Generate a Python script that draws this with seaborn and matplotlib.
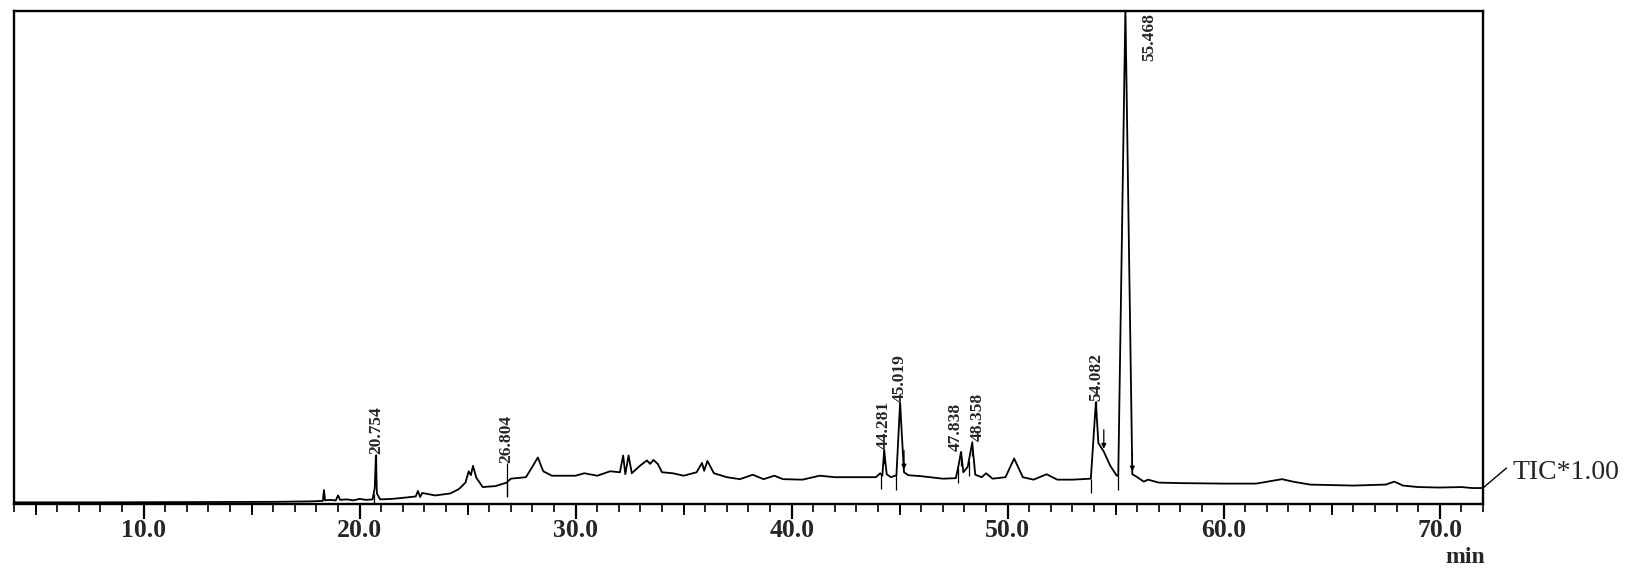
import numpy as np
import pandas as pd
import seaborn as sns
from matplotlib import pyplot as plt
from matplotlib.ticker import MultipleLocator, FormatStrFormatter

# TIC trace (min, % of full scale)
rt_min = [4.0, 8.0, 12.0, 16.0, 17.8, 18.3, 18.35, 18.4, 18.6, 18.9, 19.0, 19.1, 19.4, 19.7,
          20.0, 20.3, 20.6, 20.7, 20.754, 20.8, 20.95, 21.5, 22.2, 22.6, 22.7, 22.8, 22.9,
          23.5, 24.2, 24.6, 24.9, 25.05, 25.15, 25.25, 25.4, 25.7, 26.3, 26.804, 27.0, 27.7,
          28.05, 28.25, 28.5, 28.9, 30.0, 30.4, 31.0, 31.6, 32.05, 32.2, 32.3, 32.45, 32.6,
          33.0, 33.3, 33.45, 33.6, 33.8, 34.0, 34.5, 35.0, 35.6, 35.85, 35.95, 36.1, 36.4,
          37.0, 37.6, 38.2, 38.7, 39.2, 39.6, 40.5, 41.3, 42.0, 43.0, 43.9, 44.1, 44.2,
          44.281, 44.4, 44.6, 44.85, 45.019, 45.2, 45.4, 46.0, 47.0, 47.6, 47.75, 47.838,
          47.95, 48.15, 48.358, 48.5, 48.8, 49.0, 49.3, 49.9, 50.3, 50.7, 51.2, 51.8, 52.3,
          53.0, 53.85, 54.082, 54.2, 54.45, 54.75, 55.05, 55.12, 55.45, 55.77, 56.0, 56.3,
          56.5, 57.0, 58.0, 60.0, 61.5, 62.3, 62.7, 63.2, 64.0, 66.0, 67.5, 67.9, 68.3,
          69.0, 70.0, 71.0, 71.5, 72.0]
intensity = [0.3, 0.3, 0.35, 0.4, 0.5, 0.6, 2.8, 0.7, 0.8, 0.7, 1.7, 0.8, 0.9, 0.7,
             1.0, 0.8, 0.9, 3.2, 9.8, 2.1, 0.9, 1.0, 1.3, 1.5, 2.6, 1.4, 2.2,
             1.7, 2.1, 3.0, 4.3, 6.6, 5.8, 7.7, 5.3, 3.4, 3.6, 4.3, 5.1, 5.4,
             7.9, 9.4, 6.6, 5.7, 5.7, 6.2, 5.7, 6.6, 6.4, 9.8, 6.0, 9.8, 6.2,
             7.8, 8.8, 8.1, 8.9, 8.1, 6.4, 6.2, 5.7, 6.4, 8.3, 6.7, 8.7, 6.2,
             5.4, 5.0, 5.9, 5.0, 5.7, 5.0, 4.9, 5.7, 5.4, 5.4, 5.4, 6.2, 5.7,
             10.9, 6.0, 5.4, 5.8, 20.4, 6.4, 5.8, 5.6, 5.1, 5.2, 8.3, 10.5,
             6.4, 7.5, 12.4, 5.9, 5.4, 6.2, 5.1, 5.4, 9.2, 5.4, 4.9, 6.0, 4.9,
             4.9, 5.1, 20.6, 12.3, 10.6, 7.7, 5.7, 5.8, 100.5, 6.0, 5.4, 4.5,
             4.9, 4.3, 4.2, 4.1, 4.1, 4.7, 5.0, 4.5, 3.9, 3.7, 3.9, 4.5, 3.7,
             3.4, 3.3, 3.4, 3.2, 3.2]

peak_rt = [20.754, 26.804, 44.281, 45.019, 47.838, 48.358, 54.082, 55.468]
peak_labels = ["20.754", "26.804", "44.281", "45.019", "47.838", "48.358", "54.082", "55.468"]
start_marks = [20.65, 26.804, 44.15, 44.85, 47.7, 48.2, 53.85, 55.12]
end_marks = [45.2, 54.45, 55.77]

trace = pd.DataFrame({"Minute": rt_min, "Intensity": intensity})

sns.set_theme(style="white")
plt.rcParams['font.family'] = ['Liberation Serif', 'DejaVu Serif']

fig, ax = plt.subplots(figsize=(16.26, 5.68), dpi=100)
fig.subplots_adjust(left=0.0086, right=0.912, bottom=0.113, top=0.981)

sns.lineplot(x="Minute", y="Intensity", data=trace, estimator=None, sort=False,
             color="black", linewidth=1.3, ax=ax)

ax.set_xlim(4, 72)
ax.set_ylim(0, 100)
ax.set_xlabel("")
ax.set_ylabel("")
ax.set_yticks([])
for s in ax.spines.values():
    s.set_color("black")
    s.set_linewidth(1.7)

ax.xaxis.set_major_locator(MultipleLocator(10))
ax.xaxis.set_minor_locator(MultipleLocator(1))
ax.xaxis.set_major_formatter(FormatStrFormatter('%.1f'))
ax.tick_params(axis='x', which='major', bottom=True, direction='out', length=11, width=1.6,
               pad=0, labelsize=18.5, color='black')
ax.tick_params(axis='x', which='minor', bottom=True, direction='out', length=6, width=1.2,
               color='black')
plt.setp(ax.get_xticklabels(), fontweight='bold')

# medium ticks every 5 min
sec = ax.secondary_xaxis('bottom')
sec.set_xticks(np.arange(5, 72, 10))
sec.tick_params(axis='x', length=8, width=1.3, labelbottom=False, color='black', direction='out')
sec.spines['bottom'].set_visible(False)

# peak top labels (two crowded labels pushed slightly apart)
nudge = {"47.838": -0.24, "48.358": 0.24}
for t, lab in zip(peak_rt, peak_labels):
    y = np.interp(t, rt_min, intensity)
    if y > 95:
        ax.text(t + 1.1, 99.6, lab, rotation=90, ha='center', va='top', fontsize=12.5,
                fontweight='bold')
        continue
    base = max(y + 0.3, 8.3)
    ax.vlines(t, y - 2.8, base, color='black', linewidth=0.9)
    ax.text(t + nudge.get(lab, 0), base, lab, rotation=90, ha='center', va='bottom',
            fontsize=12.5, fontweight='bold')

for t in start_marks:
    y = np.interp(t, rt_min, intensity)
    ax.vlines(t, y - 3.0, y, color='black', linewidth=0.9)
for t in end_marks:
    y = np.interp(t, rt_min, intensity)
    ax.annotate("", xy=(t, y), xytext=(t, y + 5),
                arrowprops=dict(arrowstyle='-|>', color='black', lw=0.9, mutation_scale=7))

# TIC label with leader line
ax.annotate("", xy=(72, intensity[-1]), xytext=(0.9265, 0.176), textcoords='figure fraction',
            annotation_clip=False,
            arrowprops=dict(arrowstyle='-', color='black', lw=1.0, shrinkA=0, shrinkB=0))
fig.text(0.930, 0.168, "TIC*1.00", ha='left', va='center', fontsize=20)
fig.text(0.901, 0.019, "min", ha='center', va='center', fontsize=17, fontweight='bold')

plt.savefig('out.png', dpi=100)
